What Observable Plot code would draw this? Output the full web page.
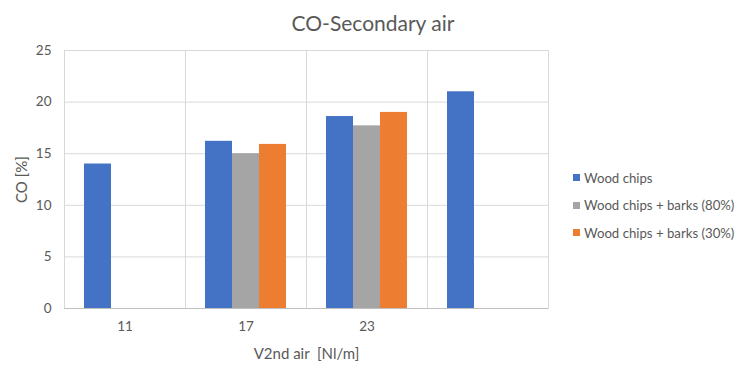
<!DOCTYPE html>
<html>
<head>
<meta charset="utf-8">
<script src="https://cdn.jsdelivr.net/npm/d3@7"></script>
<script src="https://cdn.jsdelivr.net/npm/@observablehq/plot@0.6"></script>
<style>
  html, body { margin: 0; padding: 0; background: #fff; }
  #wrap { position: relative; width: 741px; height: 369px; font-family: Lato, "Open Sans", sans-serif; color: #595959; }
  #title { position: absolute; left: 0; width: 746px; top: 10px; text-align: center; font-size: 21px; }
  #legend { position: absolute; left: 573px; top: 164px; font-size: 13.2px; }
  .item { display: flex; align-items: center; height: 27.5px; }
  .sw { width: 7px; height: 7px; margin-right: 4px; }
  svg { position: absolute; left: 0; top: 0; }
  g[aria-label="y-axis label"], g[aria-label="fx-axis label"] { font-size: 15px; }
  g[aria-label="y-axis tick label"], g[aria-label="fx-axis tick label"] { font-size: 13.5px; }
</style>
</head>
<body>
<div id="wrap">
  <div id="title">CO-Secondary air</div>
  <div id="legend"></div>
</div>
<script>
const categories = ["11", "17", "23", ""];
const seriesNames = ["Wood chips", "Wood chips + barks (80%)", "Wood chips + barks (30%)"];
const seriesColors = ["#4472C4", "#A5A5A5", "#ED7D31"];
const woodChips = [14, 16.2, 18.6, 21];
const barks80 = [null, 15, 17.7, null];
const barks30 = [null, 15.9, 19, null];
const yTicks = [0, 5, 10, 15, 20, 25];

const seriesValues = [woodChips, barks80, barks30];
const rows = [];
categories.forEach((c, i) => {
  seriesNames.forEach((s, j) => {
    const v = seriesValues[j][i];
    if (v != null) rows.push({category: c, series: s, value: v});
  });
});

const chart = Plot.plot({
  width: 741,
  height: 369,
  marginTop: 50,
  marginBottom: 61,
  marginLeft: 63,
  marginRight: 193,
  style: {fontFamily: "Lato, 'Open Sans', sans-serif", fontSize: "13px", color: "#595959", background: "transparent"},
  fx: {domain: categories, padding: 0, axis: "bottom", tickSize: 0, tickPadding: 13,
       label: "V2nd air  [Nl/m]", labelAnchor: "center", labelOffset: 50, labelArrow: "none"},
  x: {domain: seriesNames, axis: null, paddingInner: 0, paddingOuter: 0.74},
  y: {domain: [0, 25], ticks: yTicks, tickSize: 0, tickPadding: 13,
      label: "CO [%]", labelAnchor: "center", labelOffset: 48, labelArrow: "none"},
  color: {domain: seriesNames, range: seriesColors},
  marks: [
    Plot.gridY(yTicks, {stroke: "#d9d9d9", strokeOpacity: 1}),
    Plot.frame({stroke: "#d9d9d9"}),
    Plot.barY(rows, {fx: "category", x: "series", y: "value", fill: "series"}),
    Plot.ruleY([0], {stroke: "#bfbfbf"})
  ]
});
document.getElementById("wrap").appendChild(chart);

const legend = document.getElementById("legend");
seriesNames.forEach((s, j) => {
  const item = document.createElement("div");
  item.className = "item";
  const sw = document.createElement("div");
  sw.className = "sw";
  sw.style.background = seriesColors[j];
  const t = document.createElement("span");
  t.textContent = s;
  item.appendChild(sw);
  item.appendChild(t);
  legend.appendChild(item);
});
</script>
</body>
</html>
